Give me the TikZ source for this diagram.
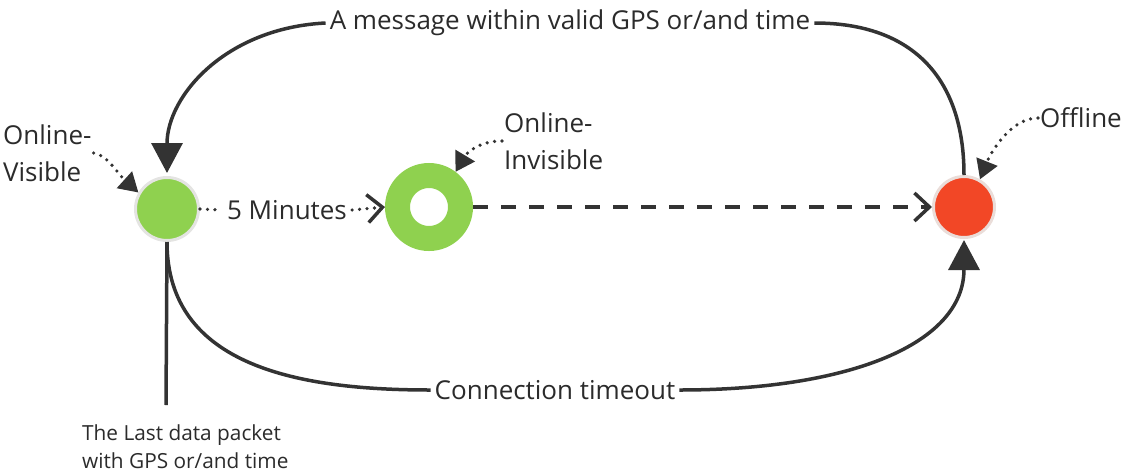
\documentclass[tikz,border=0pt]{standalone}
\usepackage{fontspec}
\setmainfont{Open Sans}
\usetikzlibrary{arrows.meta}
\definecolor{ln}{HTML}{333333}
\definecolor{tx}{HTML}{2B2B2B}
\definecolor{gr}{HTML}{8FD14F}
\definecolor{rd}{HTML}{F24726}
\definecolor{gb}{HTML}{E4E4E2}
\definecolor{rb}{HTML}{EADDD9}
\tikzset{
  vis/.style={circle,fill=gr,draw=gb,line width=3pt,minimum size=63pt,inner sep=0pt},
  ringnode/.style={circle,fill=white,draw=gr,line width=25pt,minimum size=63pt,inner sep=0pt},
  offnode/.style={circle,fill=rd,draw=rb,line width=3pt,minimum size=61pt,inner sep=0pt},
  lbl/.style={text=tx,font=\fontsize{26}{37}\selectfont,inner sep=4pt},
  small/.style={text=tx,font=\fontsize{20.8}{28}\selectfont,inner sep=0pt,align=left},
  mainline/.style={draw=ln,line width=3.5pt},
  bigtip/.style={-{Triangle[length=30pt,width=31pt]}},
  dotline/.style={draw=ln,line width=3.6pt,dash pattern=on 0pt off 7.5pt,line cap=round},
  dottip/.style={-{Triangle[length=19pt,width=22pt]}},
  barbtip/.style={-{Straight Barb[length=15pt,width=28pt,line width=3.5pt]}},
  dashline/.style={draw=ln,line width=3.5pt,dash pattern=on 15pt off 13pt}
}
\begin{document}
\begin{tikzpicture}[x=1pt,y=-1pt]
\useasboundingbox (0,0) rectangle (1125,472);
% state nodes
\node[vis] (ov) at (167,209) {};
\node[ringnode] (oi) at (429,207) {};
\node[offnode] (of) at (964,207) {};
% labels
\node[lbl] (top) at (570,23) {A message within valid GPS or/and time};
\node[lbl] (ct) at (555,390) {Connection timeout};
\node[lbl,inner sep=5pt] (fm) at (287,210) {5 Minutes};
\node[lbl,anchor=west,align=left,inner sep=2pt] (ovl) at (1,153) {Online-\\Visible};
\node[lbl,anchor=west,align=left,inner sep=2pt] (oil) at (502,141) {Online-\\Invisible};
\node[lbl,anchor=west,inner sep=2pt] (ofl) at (1038,118) {Offline};
\node[small,anchor=west] (lp) at (82,447) {The Last data packet\\with GPS or/and time};
\coordinate (vend) at (166,405);
% main curves
\draw[mainline] (of.north) .. controls +(0,-95) and +(100,0) .. (top.east);
\draw[mainline,bigtip,shorten >=3pt] (top.west) .. controls +(-100,5) and +(0,-80) .. (ov.north);
\draw[mainline] (ov.south) .. controls +(0,125) and +(-130,0) .. (ct.west);
\draw[mainline,bigtip,shorten >=1pt] (ct.east) .. controls +(170,0) and +(0,105) .. (of.south);
\draw[mainline] (ov.south) -- (vend);
% 5 minutes and dashed
\draw[dotline] (ov.east) -- (fm.west);
\draw[dotline,barbtip] (fm.east) -- (oi.west);
\draw[dashline,barbtip] (oi.east) -- (of.west);
% dotted pointers
\draw[dotline,dottip] (ovl.east) .. controls +(14,2) and +(-22,-20) .. (ov.150);
\draw[dotline,dottip] (oil.west) .. controls +(-22,0) and +(12,-20) .. (oi.53);
\draw[dotline,dottip] (ofl.west) .. controls +(-28,0) and +(10,-25) .. (of.60);
\end{tikzpicture}
\end{document}
